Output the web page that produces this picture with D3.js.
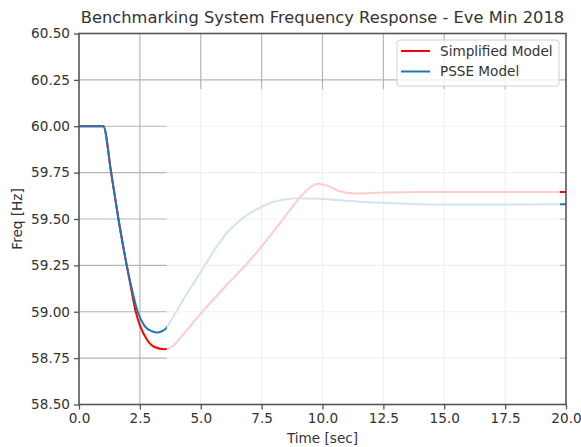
<!DOCTYPE html>
<html>
<head>
<meta charset="utf-8">
<script src="https://cdn.jsdelivr.net/npm/d3@7"></script>
<style>
  body { margin: 0; background: #fff; }
  text { font-family: "DejaVu Sans", sans-serif; fill: #333; }
</style>
</head>
<body>
<svg id="chart" width="581" height="447"></svg>
<script>
// time axis [sec] and frequency [Hz]
var simpleTime = [0, 1.0, 1.32, 1.62, 1.96, 2.12, 2.33, 2.51, 2.78, 3.1, 3.5, 3.8, 4.3, 5.0, 6.0, 7.0, 8.0, 8.5, 9.0, 9.4, 9.8, 10.2, 10.7, 11.4, 12.5, 14, 16, 18, 20];
var simpleFreq = [60, 60, 59.75, 59.50, 59.25, 59.14, 59.00, 58.924, 58.852, 58.81, 58.798, 58.81, 58.88, 58.99, 59.135, 59.275, 59.435, 59.52, 59.605, 59.66, 59.69, 59.68, 59.65, 59.637, 59.643, 59.645, 59.645, 59.645, 59.645];

var psseTime = [0, 1.0, 1.32, 1.62, 1.96, 2.14, 2.41, 2.69, 3.0, 3.2, 3.4, 3.54, 3.9, 4.29, 4.98, 5.5, 6.08, 6.5, 7.04, 7.5, 7.86, 8.5, 9.0, 9.9, 11, 12.4, 14, 15.1, 17, 20];
var psseFreq = [60, 60, 59.75, 59.50, 59.25, 59.14, 59.00, 58.924, 58.895, 58.888, 58.895, 58.906, 58.98, 59.067, 59.21, 59.32, 59.426, 59.48, 59.533, 59.565, 59.587, 59.607, 59.612, 59.609, 59.598, 59.587, 59.58, 59.578, 59.578, 59.58];

var xTicks = [0, 2.5, 5, 7.5, 10, 12.5, 15, 17.5, 20];
var yTicks = [58.5, 58.75, 59, 59.25, 59.5, 59.75, 60, 60.25, 60.5];

var seriesNames = ["Simplified Model", "PSSE Model"];
var seriesColors = ["#ff0000", "#1f77b4"];

var svg = d3.select("#chart"),
    width = +svg.attr("width"),
    height = +svg.attr("height");

var margin = {top: 33.5, right: 15, bottom: 42.5, left: 79};

var x = d3.scaleLinear().domain([0, 20]).range([margin.left, width - margin.right]);
var y = d3.scaleLinear().domain([58.5, 60.5]).range([height - margin.bottom, margin.top]);

// grid
var grid = svg.append("g").attr("class", "grid");
grid.selectAll("line.gx")
    .data(xTicks.slice(1, -1))
    .enter().append("line")
    .attr("x1", function (d) { return x(d); })
    .attr("x2", function (d) { return x(d); })
    .attr("y1", y(58.5))
    .attr("y2", y(60.5))
    .attr("stroke", "#b5b5b5")
    .attr("stroke-width", 1.2);
grid.selectAll("line.gy")
    .data(yTicks.slice(1, -1))
    .enter().append("line")
    .attr("x1", x(0))
    .attr("x2", x(20))
    .attr("y1", function (d) { return y(d); })
    .attr("y2", function (d) { return y(d); })
    .attr("stroke", "#b5b5b5")
    .attr("stroke-width", 1.2);

var series = [
    {name: seriesNames[0], color: seriesColors[0], pts: d3.zip(simpleTime, simpleFreq)},
    {name: seriesNames[1], color: seriesColors[1], pts: d3.zip(psseTime, psseFreq)}
];

var line = d3.line()
    .x(function (d) { return x(d[0]); })
    .y(function (d) { return y(d[1]); })
    .curve(d3.curveMonotoneX);

svg.append("g").selectAll("path")
    .data(series)
    .enter().append("path")
    .attr("d", function (d) { return line(d.pts); })
    .attr("fill", "none")
    .attr("stroke", function (d) { return d.color; })
    .attr("stroke-width", 2);

// faded overlay over the later part of the run
svg.append("rect")
    .attr("x", x(3.6))
    .attr("y", y(60.2))
    .attr("width", x(19.75) - x(3.6))
    .attr("height", y(58.5) - y(60.2))
    .attr("fill", "#fff")
    .attr("opacity", 0.8);

// axes
var xAxis = svg.append("g")
    .attr("transform", "translate(0," + y(58.5) + ")")
    .call(d3.axisBottom(x).tickValues(xTicks).tickSize(5).tickPadding(4)
        .tickFormat(d3.format(".1f")));
var yAxis = svg.append("g")
    .attr("transform", "translate(" + x(0) + ",0)")
    .call(d3.axisLeft(y).tickValues(yTicks).tickSize(5).tickPadding(4)
        .tickFormat(d3.format(".2f")));
[xAxis, yAxis].forEach(function (a) {
    a.select(".domain").remove();
    a.selectAll(".tick line").attr("stroke", "#555").attr("stroke-width", 1.3);
    a.selectAll(".tick text").style("font-size", "13.6px").style("font-family", "DejaVu Sans").attr("fill", "#333");
});

// frame
svg.append("rect")
    .attr("x", x(0))
    .attr("y", y(60.5))
    .attr("width", x(20) - x(0))
    .attr("height", y(58.5) - y(60.5))
    .attr("fill", "none")
    .attr("stroke", "#555")
    .attr("stroke-width", 1.6);

svg.append("text")
    .attr("x", (x(0) + x(20)) / 2)
    .attr("y", 23)
    .attr("text-anchor", "middle")
    .style("font-size", "16.3px")
    .text("Benchmarking System Frequency Response - Eve Min 2018");

svg.append("text")
    .attr("x", (x(0) + x(20)) / 2)
    .attr("y", 443)
    .attr("text-anchor", "middle")
    .style("font-size", "13.6px")
    .text("Time [sec]");

svg.append("text")
    .attr("transform", "translate(22," + (y(59.5)) + ") rotate(-90)")
    .attr("text-anchor", "middle")
    .style("font-size", "13.6px")
    .text("Freq [Hz]");

// legend
var legend = svg.append("g").attr("transform", "translate(397,40)");
legend.append("rect")
    .attr("width", 162)
    .attr("height", 46)
    .attr("rx", 3)
    .attr("fill", "#fff")
    .attr("fill-opacity", 0.8)
    .attr("stroke", "#d0d0d0");
var item = legend.selectAll("g.item")
    .data(series)
    .enter().append("g")
    .attr("transform", function (d, i) { return "translate(0," + (11 + i * 20.5) + ")"; });
item.append("line")
    .attr("x1", 4).attr("x2", 33)
    .attr("stroke", function (d) { return d.color; })
    .attr("stroke-width", 2);
item.append("text")
    .attr("x", 43)
    .attr("dy", "0.35em")
    .style("font-size", "13.6px")
    .text(function (d) { return d.name; });
</script>
</body>
</html>
